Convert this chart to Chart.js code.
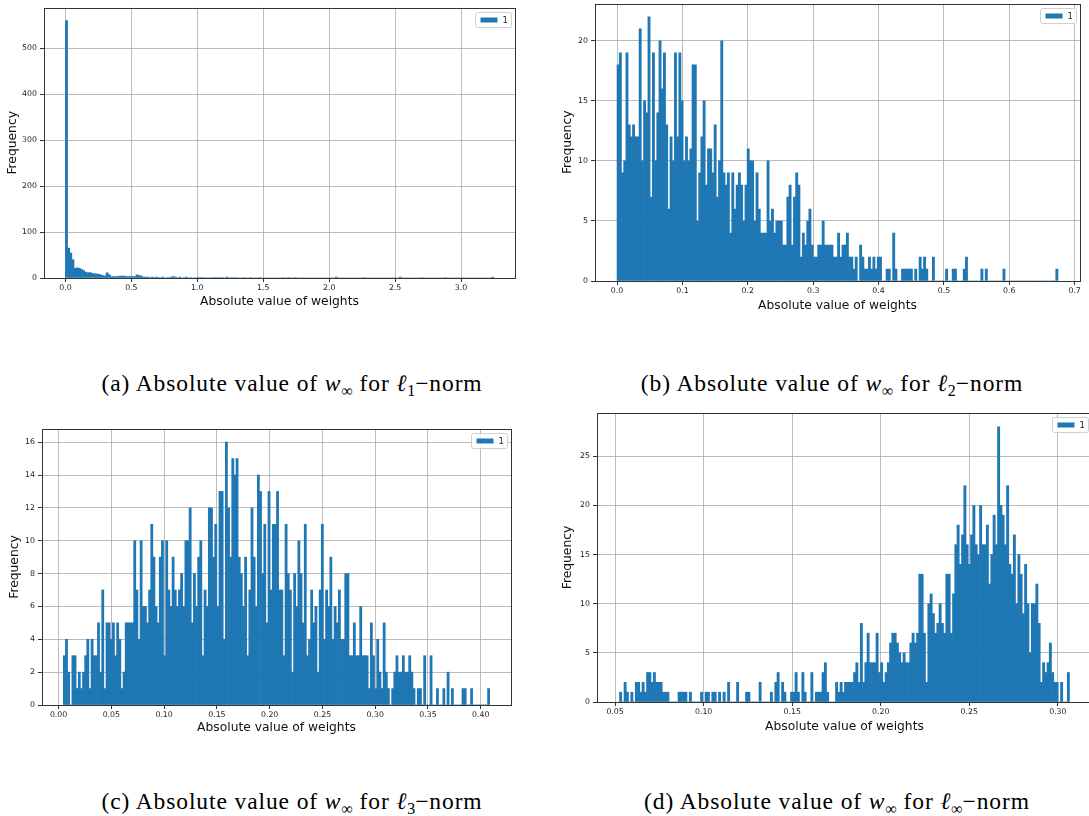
<!DOCTYPE html>
<html>
<head>
<meta charset="utf-8">
<script src="https://cdn.jsdelivr.net/npm/chart.js@4.4.1/dist/chart.umd.min.js"></script>
<style>
  html, body { margin: 0; padding: 0; background: #fff; }
  body { position: relative; width: 1089px; height: 816px; overflow: hidden; }
  canvas { position: absolute; }
  .cap { position: absolute; width: 560px; text-align: center; font-family: "Liberation Serif", serif;
         font-size: 23.5px; line-height: 24px; letter-spacing: 0.9px; color: #000; white-space: nowrap; }
  .cap sub { font-size: 68%; vertical-align: -0.3em; line-height: 0; letter-spacing: 0; }
</style>
</head>
<body>
<canvas id="histA"></canvas>
<canvas id="histB"></canvas>
<canvas id="histC"></canvas>
<canvas id="histD"></canvas>

<div class="cap" style="left:12px; top:371px">(a) Absolute value of <i>w</i><sub>∞</sub> for <i>ℓ</i><sub>1</sub>−norm</div>
<div class="cap" style="left:552px; top:371px">(b) Absolute value of <i>w</i><sub>∞</sub> for <i>ℓ</i><sub>2</sub>−norm</div>
<div class="cap" style="left:12px; top:789px">(c) Absolute value of <i>w</i><sub>∞</sub> for <i>ℓ</i><sub>3</sub>−norm</div>
<div class="cap" style="left:557px; top:789px">(d) Absolute value of <i>w</i><sub>∞</sub> for <i>ℓ</i><sub>∞</sub>−norm</div>

<script>
// histogram counts, 200 bins each
const countsA = [
  560,65,54,40,21,22,21,19,16,13,11,12,10,9,9,8,7,5,4,11,
  7,3,3,3,3,4,4,4,3,3,3,3,3,7,5,4,2,2,2,1,
  2,1,2,1,1,2,0,1,1,2,3,2,0,2,0,1,2,0,1,0,
  0,1,1,1,1,0,1,0,1,1,1,1,1,1,0,2,0,1,0,1,
  0,0,0,1,0,0,1,0,0,0,1,0,0,0,0,0,0,0,0,0,
  0,1,0,0,1,0,0,1,0,0,0,0,0,0,0,0,0,0,0,0,
  0,0,0,0,0,0,2,0,0,0,0,0,0,0,0,0,0,0,0,1,
  0,0,0,0,0,0,0,0,0,0,0,0,0,0,0,0,2,0,0,0,
  0,0,0,0,0,0,1,0,0,0,0,0,0,0,0,0,0,1,0,0,
  0,0,0,0,0,0,0,0,0,0,0,0,0,0,0,0,0,0,0,2
];
const countsB = [
  18,19,9,10,19,13,12,13,12,12,21,10,15,14,22,7,19,10,14,20,
  16,19,13,6,12,10,19,12,19,15,10,12,10,11,18,18,5,9,12,15,
  8,11,11,9,13,7,10,20,9,8,9,4,9,6,8,9,8,5,8,11,
  10,10,5,9,6,4,4,4,10,5,6,4,5,5,5,3,3,7,8,3,
  7,9,8,2,4,3,5,6,3,2,2,3,3,5,3,3,3,3,2,2,
  4,2,3,3,4,2,2,1,2,0,3,2,1,1,2,1,2,1,2,2,
  0,0,1,1,0,4,1,0,0,1,1,1,1,1,0,1,0,2,1,2,
  1,0,0,2,0,0,0,0,0,1,0,0,1,1,0,0,0,1,2,0,
  0,0,0,0,0,1,0,1,0,0,0,0,0,0,0,1,0,0,0,0,
  0,0,0,0,0,0,0,0,0,0,0,0,0,0,0,0,0,0,0,1
];
const countsC = [
  3,4,2,0,3,3,1,2,1,2,3,4,1,4,3,3,5,2,7,1,
  5,5,4,5,3,5,4,1,2,5,5,5,5,10,7,4,10,6,6,5,
  7,11,9,6,5,9,10,3,10,7,6,9,7,6,7,8,6,10,10,12,
  5,8,6,9,10,3,7,6,12,12,9,11,6,13,13,4,16,12,9,15,
  14,15,9,8,6,9,3,7,12,9,6,14,13,8,11,5,13,7,11,11,
  13,7,7,3,11,8,7,2,8,6,10,8,5,11,3,4,7,5,6,2,
  7,11,4,7,6,9,4,6,5,7,4,4,8,8,3,3,5,3,3,6,
  3,3,3,1,5,3,1,4,2,1,5,2,1,0,1,2,3,2,2,3,
  2,2,3,2,1,0,1,1,0,3,0,0,3,0,0,1,0,0,1,0,
  2,0,1,0,0,0,0,1,1,0,0,1,0,0,0,0,0,0,0,1
];
const countsD = [
  1,0,2,1,0,1,0,2,2,1,2,1,3,3,2,3,2,2,2,1,
  1,1,0,0,0,0,1,1,1,1,0,1,0,0,0,0,1,0,1,1,
  0,1,1,0,1,0,1,0,2,0,0,0,2,0,0,0,1,1,0,0,
  0,0,2,0,0,0,0,1,0,2,3,0,2,1,0,0,1,1,3,1,
  0,3,1,0,0,3,0,1,1,1,3,4,1,0,0,0,2,1,2,1,
  2,2,2,2,3,4,2,8,2,4,7,4,4,4,7,3,4,2,3,4,
  6,7,7,6,5,4,5,4,4,6,7,6,7,13,13,7,2,10,11,9,
  7,8,10,8,7,13,13,7,11,16,18,14,17,22,16,14,17,20,16,15,
  20,16,16,18,12,15,19,16,28,20,19,16,22,14,13,17,10,15,13,9,
  14,10,5,10,10,12,8,2,4,3,4,6,3,2,2,0,2,0,0,3
];

// first and last bin edge of each histogram
const binRangeA = [0, 3.247];
const binRangeB = [0, 0.6745];
const binRangeC = [0.0045, 0.4085];
const binRangeD = [0.0525, 0.3066];

// tick labels
const xTicksA = ['0.0', '0.5', '1.0', '1.5', '2.0', '2.5', '3.0'];
const xTicksB = ['0.0', '0.1', '0.2', '0.3', '0.4', '0.5', '0.6', '0.7'];
const xTicksC = ['0.00', '0.05', '0.10', '0.15', '0.20', '0.25', '0.30', '0.35', '0.40'];
const xTicksD = ['0.05', '0.10', '0.15', '0.20', '0.25', '0.30'];
const yTicksA = [0, 100, 200, 300, 400, 500];
const yTicksB = [0, 5, 10, 15, 20];
const yTicksC = [0, 2, 4, 6, 8, 10, 12, 14, 16];
const yTicksD = [0, 5, 10, 15, 20, 25];

const seriesLabel = '1';
const barColor = '#1f77b4';
const xTitle = 'Absolute value of weights';
const yTitle = 'Frequency';

const tickFont = { family: 'DejaVu Sans', size: 7.8 };
const titleFont = { family: 'DejaVu Sans', size: 12.3, lineHeight: 1.2 };

// frame around the axes + the small legend box in the top right corner
const framePlugin = {
  id: 'frameLegend',
  afterDraw(chart) {
    const a = chart.chartArea;
    const ctx = chart.ctx;
    ctx.save();
    ctx.strokeStyle = '#333';
    ctx.lineWidth = 1;
    ctx.strokeRect(Math.round(a.left) + 0.5, Math.round(a.top) + 0.5,
      Math.round(a.right - a.left), Math.round(a.bottom - a.top));

    const ds = chart.data.datasets[0];
    const w = 36, h = 15;
    const x = Math.round(a.right - 4 - w) + 0.5;
    const y = Math.max(Math.round(a.top + 4), 5) + 0.5;
    ctx.beginPath();
    ctx.roundRect(x, y, w, h, 2);
    ctx.fillStyle = 'rgba(255,255,255,0.85)';
    ctx.fill();
    ctx.strokeStyle = '#d0d0d0';
    ctx.stroke();
    ctx.fillStyle = ds.backgroundColor;
    ctx.fillRect(x + 5, y + 5, 17, 5);
    ctx.fillStyle = '#222';
    ctx.font = '8.5px "DejaVu Sans"';
    ctx.textBaseline = 'middle';
    ctx.fillText(ds.label, x + 27, y + h / 2 + 0.5);
    ctx.restore();
  }
};

function binCenters(range, n) {
  const step = (range[1] - range[0]) / n;
  const out = [];
  for (let i = 0; i < n; i++) out.push(range[0] + (i + 0.5) * step);
  return out;
}

function makeHist(id, counts, range, xTicks, yTicks, box) {
  const canvas = document.getElementById(id);
  canvas.style.left = box.left + 'px';
  canvas.style.top = box.top + 'px';
  canvas.width = box.w;
  canvas.height = box.h;

  const centers = binCenters(range, counts.length);
  const span = range[1] - range[0];
  const lh = titleFont.size * titleFont.lineHeight;
  const xScaleH = box.xTitleY - box.b + lh / 2;

  return new Chart(canvas, {
    type: 'bar',
    data: {
      datasets: [{
        label: seriesLabel,
        data: counts.map((c, i) => ({ x: centers[i], y: c })),
        backgroundColor: barColor,
        borderWidth: 0,
        barPercentage: 1,
        categoryPercentage: 1
      }]
    },
    options: {
      responsive: false,
      animation: false,
      layout: {
        padding: {
          left: 0,
          top: box.t - box.top,
          right: box.left + box.w - box.r,
          bottom: box.top + box.h - box.b - xScaleH
        }
      },
      plugins: { legend: { display: false }, tooltip: { enabled: false } },
      scales: {
        x: {
          type: 'linear',
          offset: false,
          z: 1,
          min: range[0] - 0.05 * span,
          max: range[1] + 0.05 * span,
          afterBuildTicks: s => { s.ticks = xTicks.map(t => ({ value: parseFloat(t) })); },
          afterFit: s => { s.height = xScaleH; },
          grid: { offset: false, color: 'rgba(176,176,176,0.85)', lineWidth: 1,
                  tickColor: '#333', tickLength: 4 },
          border: { display: false },
          ticks: { autoSkip: false, maxRotation: 0, padding: 1, color: '#222', font: tickFont,
                   callback: (v, i) => xTicks[i] },
          title: { display: true, text: xTitle, color: '#111', font: titleFont, padding: 0 }
        },
        y: {
          min: 0,
          max: Math.max(...counts) * 1.05,
          z: 1,
          afterBuildTicks: s => { s.ticks = yTicks.map(v => ({ value: v })); },
          afterFit: s => { s.width = box.l - box.left; },
          grid: { color: 'rgba(176,176,176,0.85)', lineWidth: 1, tickColor: '#333', tickLength: 4 },
          border: { display: false },
          ticks: { padding: 3, color: '#222', font: tickFont, callback: v => String(v) },
          title: { display: true, text: yTitle, color: '#111', font: titleFont,
                   padding: { top: box.yTitleX - box.left - lh / 2, bottom: 0 } }
        }
      }
    },
    plugins: [framePlugin]
  });
}

// canvas box + axes rectangle (page pixels) of each panel
makeHist('histA', countsA, binRangeA, xTicksA, yTicksA,
  { left: 0, top: 0, w: 530, h: 320, l: 44, t: 3, r: 515, b: 278, xTitleY: 302, yTitleX: 13 });
makeHist('histB', countsB, binRangeB, xTicksB, yTicksB,
  { left: 555, top: -4, w: 534, h: 325, l: 595, t: -2, r: 1080, b: 281, xTitleY: 306, yTitleX: 568 });
makeHist('histC', countsC, binRangeC, xTicksC, yTicksC,
  { left: 0, top: 415, w: 530, h: 330, l: 42, t: 429, r: 511, b: 705, xTitleY: 728, yTitleX: 15 });
makeHist('histD', countsD, binRangeD, xTicksD, yTicksD,
  { left: 555, top: 400, w: 540, h: 340, l: 597, t: 413, r: 1092, b: 702, xTitleY: 727, yTitleX: 568 });
</script>
</body>
</html>
